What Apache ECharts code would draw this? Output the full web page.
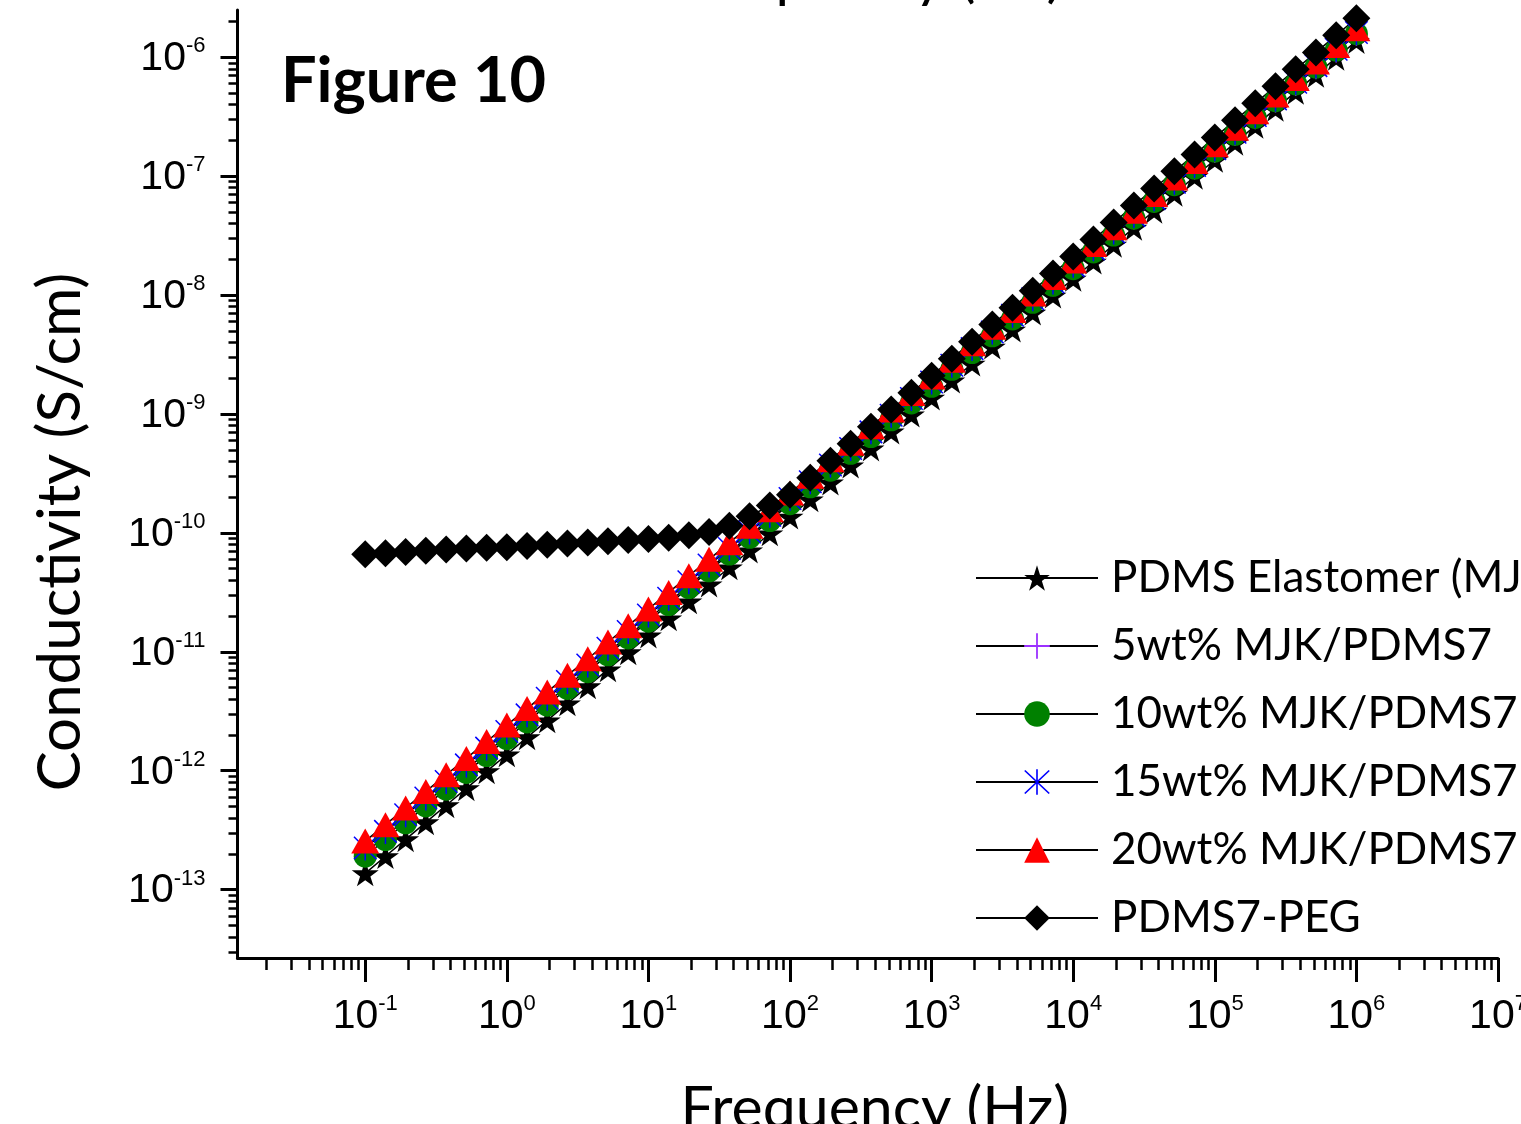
<!DOCTYPE html>
<html>
<head>
<meta charset="utf-8">
<script src="https://cdn.jsdelivr.net/npm/echarts@6/dist/echarts.min.js"></script>
<style>
html,body{margin:0;padding:0;background:#ffffff;}
#chart{width:1521px;height:1124px;}
</style>
</head>
<body>
<div id="chart"></div>
<script>
// ---------------- data (S/cm vs Hz) ----------------
const frequencyHz = [
  0.1, 0.139, 0.193, 0.268, 0.373, 0.518, 0.72,
  1, 1.39, 1.93, 2.68, 3.73, 5.18, 7.2,
  10, 13.9, 19.3, 26.8, 37.3, 51.8, 72,
  100, 139, 193, 268, 373, 518, 720,
  1000, 1389, 1931, 2683, 3728, 5179, 7197,
  10000, 13895, 19307, 26827, 37276, 51795, 71969,
  100000, 138950, 193070, 268270, 372760, 517950, 719690,
  1000000
];

const pdmsElastomer = [
  1.37e-13, 1.91e-13, 2.65e-13, 3.68e-13, 5.12e-13, 7.11e-13, 9.89e-13,
  1.37e-12, 1.91e-12, 2.65e-12, 3.68e-12, 5.12e-12, 7.11e-12, 9.89e-12,
  1.37e-11, 1.91e-11, 2.65e-11, 3.68e-11, 5.12e-11, 7.11e-11, 9.89e-11,
  1.37e-10, 1.91e-10, 2.65e-10, 3.68e-10, 5.12e-10, 7.11e-10, 9.89e-10,
  1.37e-9, 1.91e-9, 2.65e-9, 3.68e-9, 5.12e-9, 7.11e-9, 9.89e-9,
  1.37e-8, 1.91e-8, 2.65e-8, 3.68e-8, 5.12e-8, 7.11e-8, 9.89e-8,
  1.37e-7, 1.91e-7, 2.65e-7, 3.68e-7, 5.12e-7, 7.11e-7, 9.89e-7,
  1.37e-6
];

const mjk5wt = [
  2.04e-13, 2.82e-13, 3.90e-13, 5.38e-13, 7.45e-13, 1.03e-12, 1.42e-12,
  1.96e-12, 2.71e-12, 3.75e-12, 5.18e-12, 7.14e-12, 9.89e-12, 1.36e-11,
  1.89e-11, 2.61e-11, 3.60e-11, 4.98e-11, 6.87e-11, 9.51e-11, 1.31e-10,
  1.81e-10, 2.51e-10, 3.46e-10, 4.79e-10, 6.61e-10, 9.12e-10, 1.26e-9,
  1.74e-9, 2.41e-9, 3.33e-9, 4.59e-9, 6.35e-9, 8.77e-9, 1.21e-8,
  1.67e-8, 2.31e-8, 3.20e-8, 4.42e-8, 6.11e-8, 8.43e-8, 1.16e-7,
  1.61e-7, 2.22e-7, 3.08e-7, 4.25e-7, 5.86e-7, 8.11e-7, 1.12e-6,
  1.55e-6
];

const mjk10wt = [
  1.91e-13, 2.64e-13, 3.65e-13, 5.06e-13, 7.00e-13, 9.68e-13, 1.34e-12,
  1.86e-12, 2.57e-12, 3.56e-12, 4.92e-12, 6.81e-12, 9.44e-12, 1.31e-11,
  1.81e-11, 2.50e-11, 3.47e-11, 4.80e-11, 6.64e-11, 9.18e-11, 1.27e-10,
  1.76e-10, 2.44e-10, 3.37e-10, 4.67e-10, 6.47e-10, 8.95e-10, 1.24e-9,
  1.71e-9, 2.38e-9, 3.29e-9, 4.55e-9, 6.30e-9, 8.71e-9, 1.21e-8,
  1.67e-8, 2.31e-8, 3.20e-8, 4.44e-8, 6.14e-8, 8.49e-8, 1.17e-7,
  1.63e-7, 2.25e-7, 3.12e-7, 4.32e-7, 5.97e-7, 8.28e-7, 1.15e-6,
  1.58e-6
];

const mjk15wt = [
  2.24e-13, 3.09e-13, 4.27e-13, 5.89e-13, 8.13e-13, 1.12e-12, 1.55e-12,
  2.14e-12, 2.95e-12, 4.07e-12, 5.62e-12, 7.76e-12, 1.07e-11, 1.48e-11,
  2.04e-11, 2.82e-11, 3.89e-11, 5.37e-11, 7.41e-11, 1.02e-10, 1.41e-10,
  1.95e-10, 2.69e-10, 3.72e-10, 5.13e-10, 7.08e-10, 9.77e-10, 1.35e-9,
  1.86e-9, 2.57e-9, 3.55e-9, 4.90e-9, 6.76e-9, 9.33e-9, 1.29e-8,
  1.78e-8, 2.45e-8, 3.39e-8, 4.68e-8, 6.46e-8, 8.91e-8, 1.23e-7,
  1.70e-7, 2.34e-7, 3.24e-7, 4.47e-7, 6.17e-7, 8.51e-7, 1.17e-6,
  1.62e-6
];

const mjk20wt = [
  2.56e-13, 3.52e-13, 4.86e-13, 6.70e-13, 9.25e-13, 1.27e-12, 1.76e-12,
  2.42e-12, 3.33e-12, 4.60e-12, 6.34e-12, 8.75e-12, 1.21e-11, 1.66e-11,
  2.29e-11, 3.16e-11, 4.36e-11, 6.00e-11, 8.28e-11, 1.14e-10, 1.57e-10,
  2.17e-10, 2.99e-10, 4.12e-10, 5.68e-10, 7.83e-10, 1.08e-9, 1.49e-9,
  2.05e-9, 2.83e-9, 3.90e-9, 5.37e-9, 7.41e-9, 1.02e-8, 1.41e-8,
  1.94e-8, 2.67e-8, 3.69e-8, 5.08e-8, 7.01e-8, 9.66e-8, 1.33e-7,
  1.84e-7, 2.53e-7, 3.49e-7, 4.81e-7, 6.64e-7, 9.14e-7, 1.26e-6,
  1.74e-6
];

const pdms7Peg = [
  6.61e-11, 6.76e-11, 6.92e-11, 7.08e-11, 7.24e-11, 7.41e-11, 7.50e-11,
  7.59e-11, 7.76e-11, 7.94e-11, 8.13e-11, 8.32e-11, 8.51e-11, 8.71e-11,
  8.91e-11, 9.12e-11, 9.55e-11, 1.02e-10, 1.15e-10, 1.38e-10, 1.70e-10,
  2.09e-10, 2.91e-10, 4.05e-10, 5.62e-10, 7.82e-10, 1.09e-9, 1.51e-9,
  2.10e-9, 2.92e-9, 4.06e-9, 5.65e-9, 7.85e-9, 1.09e-8, 1.52e-8,
  2.11e-8, 2.94e-8, 4.08e-8, 5.68e-8, 7.89e-8, 1.10e-7, 1.52e-7,
  2.12e-7, 2.95e-7, 4.10e-7, 5.70e-7, 7.93e-7, 1.10e-6, 1.53e-6,
  2.13e-6
];

const seriesNames = [
  'PDMS Elastomer (MJK)',
  '5wt% MJK/PDMS7',
  '10wt% MJK/PDMS7',
  '15wt% MJK/PDMS7',
  '20wt% MJK/PDMS7',
  'PDMS7-PEG'
];

// tick labels: powers of ten shown on each axis
const xTickExponents = [-1, 0, 1, 2, 3, 4, 5, 6, 7];
const yTickExponents = [-13, -12, -11, -10, -9, -8, -7, -6];

const xAxisTitle = 'Frequency (Hz)';
const yAxisTitle = 'Conductivity (S/cm)';
const figureLabel = 'Figure 10';

// ---------------- helpers ----------------
const LAT = 'Lato, "Open Sans", sans-serif';
const ARI = '"Liberation Sans", Arial, sans-serif';

function toPairs(ys) {
  return frequencyHz.map((f, i) => [Math.log10(f), Math.log10(ys[i])]);
}
function minorLogs(lo, hi) {
  const out = [];
  for (let e = lo; e <= hi; e++) {
    for (let k = 2; k <= 9; k++) out.push(e + Math.log10(k));
  }
  return out;
}
function powLabel(v) {
  const e = Math.round(v);
  return '{b|10}{s|' + e + '}';
}
const labelRich = {
  b: { fontSize: 41, fontFamily: ARI, color: '#000', lineHeight: 44, verticalAlign: 'bottom' },
  s: { fontSize: 22, fontFamily: ARI, color: '#000', lineHeight: 20, verticalAlign: 'top' }
};

const X_MIN = -1.902, X_MAX = 7;
const Y_MIN = -13.575, Y_MAX = -5.602;

const starPath = 'path://M0,-10L2.245,-3.09L9.511,-3.09L3.633,1.18L5.878,8.09L0,3.82L-5.878,8.09L-3.633,1.18L-9.511,-3.09L-2.245,-3.09Z';
const plusPath = 'path://M-0.7,-10L0.7,-10L0.7,-0.7L10,-0.7L10,0.7L0.7,0.7L0.7,10L-0.7,10L-0.7,0.7L-10,0.7L-10,-0.7L-0.7,-0.7Z';
const asteriskPath = 'path://M-0.6,-10L0.6,-10L0.6,10L-0.6,10Z' +
  'M-8.576,-9.424L9.424,8.576L8.576,9.424L-9.424,-8.576Z' +
  'M-9.424,8.576L8.576,-9.424L9.424,-8.576L-8.576,9.424Z';

const seriesDefs = [
  { name: seriesNames[0], data: pdmsElastomer, symbol: starPath, size: 27, color: '#000000' },
  { name: seriesNames[1], data: mjk5wt, symbol: plusPath, size: 22, color: '#9B30FF' },
  { name: seriesNames[2], data: mjk10wt, symbol: 'circle', size: 23, color: '#008000' },
  { name: seriesNames[3], data: mjk15wt, symbol: asteriskPath, size: 25, color: '#0000FF' },
  { name: seriesNames[4], data: mjk20wt, symbol: 'triangle', size: [28, 25], color: '#FF0000' },
  { name: seriesNames[5], data: pdms7Peg, symbol: 'diamond', size: 28, color: '#000000' }
];

const chart = echarts.init(document.getElementById('chart'), null, { renderer: 'canvas' });

const option = {
  animation: false,
  backgroundColor: '#ffffff',
  title: {
    text: figureLabel,
    left: 281,
    top: 50,
    padding: 0,
    textStyle: { fontFamily: LAT, fontWeight: 'bold', fontSize: 63, color: '#000' }
  },
  graphic: [{
    type: 'text',
    x: 868,
    y: 6,
    silent: true,
    style: {
      text: xAxisTitle,
      fontFamily: LAT,
      fontSize: 59,
      fill: '#000',
      textAlign: 'center',
      textVerticalAlign: 'bottom',
      verticalAlign: 'bottom'
    }
  }],
  legend: {
    orient: 'vertical',
    left: 975,
    top: 554,
    itemWidth: 122,
    itemHeight: 32,
    itemGap: 20,
    padding: 0,
    data: seriesNames,
    textStyle: { fontFamily: LAT, fontSize: 44, color: '#000', lineHeight: 48, padding: [0, 0, 0, 8] }
  },
  grid: { left: 237.5, right: 23, top: 10, bottom: 166, containLabel: false, outerBoundsMode: 'none' },
  xAxis: [
    {
      type: 'value',
      position: 'bottom',
      min: X_MIN,
      max: X_MAX,
      splitLine: { show: false },
      axisLine: { show: true, onZero: false, lineStyle: { color: '#000', width: 3 } },
      axisTick: { show: true, inside: false, length: 24, customValues: xTickExponents, lineStyle: { color: '#000', width: 3 } },
      axisLabel: { show: true, margin: 35, customValues: xTickExponents, formatter: powLabel, rich: labelRich },
      name: xAxisTitle,
      nameLocation: 'middle',
      nameGap: 121,
      nameTextStyle: { fontFamily: LAT, fontSize: 59, color: '#000', padding: [0, 0, 0, 14] }
    },
    {
      type: 'value',
      position: 'bottom',
      min: X_MIN,
      max: X_MAX,
      splitLine: { show: false },
      axisLine: { show: false, onZero: false },
      axisTick: { show: true, inside: false, length: 12, customValues: minorLogs(-2, 6), lineStyle: { color: '#000', width: 2.5 } },
      axisLabel: { show: false }
    }
  ],
  yAxis: [
    {
      type: 'value',
      position: 'left',
      min: Y_MIN,
      max: Y_MAX,
      splitLine: { show: false },
      axisLine: { show: true, onZero: false, lineStyle: { color: '#000', width: 3 } },
      axisTick: { show: true, inside: false, length: 17, customValues: yTickExponents, lineStyle: { color: '#000', width: 3 } },
      axisLabel: { show: true, margin: 32, customValues: yTickExponents, formatter: powLabel, rich: labelRich },
      name: yAxisTitle,
      nameLocation: 'middle',
      nameGap: 147,
      nameTextStyle: { fontFamily: LAT, fontSize: 60, color: '#000', padding: [0, 96, 0, 0] }
    },
    {
      type: 'value',
      position: 'left',
      min: Y_MIN,
      max: Y_MAX,
      splitLine: { show: false },
      axisLine: { show: false, onZero: false },
      axisTick: { show: true, inside: false, length: 9, customValues: minorLogs(-14, -6), lineStyle: { color: '#000', width: 2.5 } },
      axisLabel: { show: false }
    }
  ],
  series: seriesDefs.map(d => ({
    name: d.name,
    type: 'line',
    xAxisIndex: 0,
    yAxisIndex: 0,
    data: toPairs(d.data),
    symbol: d.symbol,
    symbolSize: d.size,
    symbolKeepAspect: true,
    showSymbol: true,
    showAllSymbol: true,
    clip: true,
    lineStyle: { color: '#000', width: 1.5 },
    itemStyle: { color: d.color, borderWidth: 0 },
    emphasis: { disabled: true }
  }))
};

chart.setOption(option);
</script>
</body>
</html>
